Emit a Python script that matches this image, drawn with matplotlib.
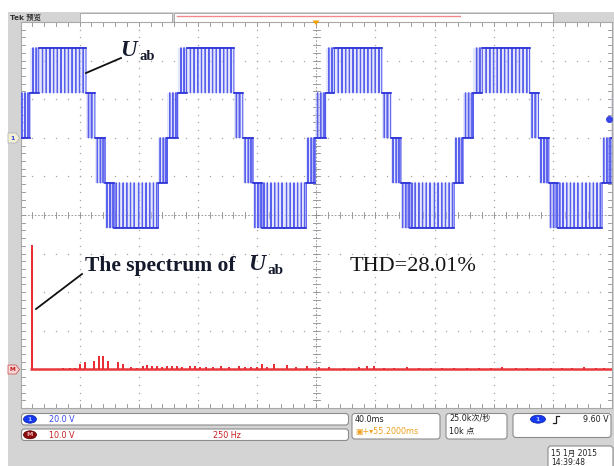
import numpy as np
import matplotlib
matplotlib.use("Agg")
import matplotlib.pyplot as plt
from matplotlib.patches import Rectangle, FancyBboxPatch, Ellipse, Polygon

# ---------------- data ----------------
ch1_volts_per_div = 20.0
ch1_offset_div = 2.0
math_volts_per_div = 10.0
math_offset_div = -4.0
time_ms_per_div = 40.0
fft_hz_per_div = 250.0
trigger_level_v = 9.60

level_step_v = 23.3                      # voltage of one level of the 5-level waveform
peak_centres_ms = [-71.7, 28.3, 128.3, 228.3, 328.3, 428.3]

# one period, relative to the centre of a positive plateau
band_start_ms = [-50.0, -35.0, -29.0, -22.0, -16.0, 16.0, 22.0, 29.0, 35.0]
band_end_ms = [-35.0, -29.0, -22.0, -16.0, 16.0, 22.0, 29.0, 35.0, 50.0]
band_level = [-2, -1, 0, 1, 2, 1, 0, -1, -2]
band_pulse_level = [-1, 0, 1, 2, 1, 0, -1, -2, -1]
band_pulse_ms = [
    [-48.5, -46.0, -43.5, -41.0, -38.5, -36.3],
    [-34.0, -32.0, -30.3],
    [-27.5, -25.5, -23.5],
    [-20.0, -18.0],
    [-13.5, -11.0, -8.5, -6.0, -3.5, -1.0, 1.5, 4.0, 6.5, 9.0, 11.5, 14.0],
    [17.5, 19.5],
    [23.5, 25.5, 27.3],
    [30.0, 32.0, 33.8],
    [36.3, 38.5, 41.0, 43.5, 46.0, 48.5],
]
band_pulse_width_ms = [
    [0.2, 0.2, 0.2, 0.2, 0.2, 0.2],
    [0.3, 0.5, 0.8],
    [0.3, 0.5, 0.8],
    [0.4, 0.7],
    [0.2, 0.2, 0.2, 0.2, 0.2, 0.2, 0.2, 0.2, 0.2, 0.2, 0.2, 0.2],
    [0.4, 0.7],
    [0.3, 0.5, 0.8],
    [0.3, 0.5, 0.8],
    [0.2, 0.2, 0.2, 0.2, 0.2, 0.2],
]

# FFT of Uab (math channel)
fft_span_hz = [40.0, 2500.0]
fft_freq_hz = [50, 179, 209, 230, 251, 272, 310, 331, 348, 369, 411, 432, 466, 491,
               516, 533, 554, 575, 597, 618, 639, 660, 681, 715, 736, 757, 786, 812,
               849, 883, 925, 947, 976, 998, 1022, 1043, 1073, 1128, 1166, 1212, 1263,
               1305, 1368, 1431, 1465, 1495, 1537, 1579, 1634, 1684, 1735, 1781, 1832,
               1887, 1938, 1988, 2034, 2093, 2140, 2190, 2241, 2287, 2329, 2380, 2431, 2465]
fft_amp_v = [32.1, 0.26, 0.39, 0.39, 1.3, 1.8, 2.3, 3.6, 3.6, 2.3, 1.8, 1.3, 0.5, 0.39,
             0.78, 1.04, 0.78, 0.78, 0.52, 0.78, 0.78, 0.78, 0.65, 0.78, 0.78, 0.65, 0.52, 0.65,
             0.78, 0.52, 0.78, 0.65, 0.52, 0.52, 1.3, 0.52, 1.3, 1.04, 0.52, 0.78, 0.52,
             0.52, 0.39, 0.52, 0.78, 0.78, 0.39, 0.39, 0.5, 0.45, 0.45, 0.45, 0.45,
             0.45, 0.45, 0.45, 0.5, 0.45, 0.45, 0.45, 0.45, 0.45, 0.45, 0.5, 0.45, 0.45]

thd_text = "THD=28.01%"

# ---------------- figure ----------------
W, H = 614, 466
fig = plt.figure(figsize=(W / 100, H / 100), dpi=100)
fig.patch.set_facecolor("white")

# background / chrome axes in pixel coordinates
bg = fig.add_axes([0, 0, 1, 1], zorder=0)
bg.set_xlim(0, W); bg.set_ylim(H, 0); bg.axis("off")
bg.add_patch(Rectangle((8, 12), W - 8, H - 12, fc="#d4d4d4", ec="none"))
bg.add_patch(Rectangle((80, 12.5), 92, 9, fc="white", ec="#a0a0a0", lw=0.6))
bg.add_patch(Rectangle((174, 12.5), 379, 9, fc="white", ec="#a0a0a0", lw=0.6))
bg.plot([177, 460], [15.5, 15.5], color="#f08a8a", lw=1.0)
bg.text(10, 17.5, "Tek 预览", fontsize=5.2, color="#303030", va="center",
        family=["DejaVu Sans", "Noto Sans CJK SC"], weight="bold")

# status boxes
def box(x, y, w, h):
    bg.add_patch(FancyBboxPatch((x, y), w, h, boxstyle="round,pad=0,rounding_size=3",
                                fc="white", ec="#8c8c8c", lw=0.8))

sfam = ["DejaVu Sans", "Noto Sans CJK SC"]
box(21.5, 413.5, 327, 11.5)
box(21.5, 429, 327, 11.5)
box(352, 413.5, 88, 25.5)
box(446, 413.5, 61, 25.5)
box(513, 413.5, 98, 24)
box(548, 446, 65, 24)

bg.add_patch(Ellipse((30, 419.2), 13, 8, fc="#1638f0", ec="#0a20a0", lw=0.5))
bg.text(30, 419.4, "1", fontsize=4.5, color="#b0c0ff", ha="center", va="center", weight="bold")
bg.text(49, 419.4, "20.0 V", fontsize=5.8, color="#3848f0", va="center", family=sfam)
bg.add_patch(Ellipse((30, 434.8), 13, 8, fc="#8a0c0c", ec="#500000", lw=0.5))
bg.text(30, 435, "M", fontsize=4.5, color="#f0b0b0", ha="center", va="center", weight="bold")
bg.text(49, 435, "10.0 V", fontsize=5.8, color="#c82020", va="center", family=sfam)
bg.text(213, 435, "250 Hz", fontsize=5.8, color="#c82020", va="center", family=sfam)
bg.text(355, 419, "40.0ms", fontsize=5.8, color="#202020", va="center", family=sfam)
bg.text(355, 431.5, "▣+▾55.2000ms", fontsize=5.8, color="#f0a020", va="center", family=sfam)
bg.text(449, 419, "25.0k次/秒", fontsize=5.8, color="#202020", va="center", family=sfam)
bg.text(449, 431.5, "10k 点", fontsize=5.8, color="#202020", va="center", family=sfam)
bg.add_patch(Ellipse((538, 419.2), 15, 8, fc="#1638f0", ec="#0a20a0", lw=0.5))
bg.text(538, 419.4, "1", fontsize=4.5, color="#b0c0ff", ha="center", va="center", weight="bold")
bg.plot([553, 556, 556, 559], [423, 423, 416, 416], color="#202020", lw=0.9)
bg.text(609, 419.4, "9.60 V", fontsize=5.8, color="#202020", va="center", ha="right", family=sfam)
bg.text(551, 453.5, "15 1月 2015", fontsize=5.5, color="#202020", va="center", family=sfam)
bg.text(551, 462.5, "14:39:48", fontsize=5.5, color="#202020", va="center", family=sfam)

# ---------------- main graticule axes ----------------
L, R, T, B = 20.5, 612.0, 22.0, 408.0
ax = fig.add_axes([L / W, (H - B) / H, (R - L) / W, (B - T) / H], zorder=1)
ax.set_xlim(0, 10); ax.set_ylim(-5, 5)
ax.set_facecolor("white")
ax.set_xticks([]); ax.set_yticks([])
for sp in ax.spines.values():
    sp.set_color("#a8a8a8"); sp.set_linewidth(0.8)

sub = np.arange(0, 10.001, 0.2)
suby = np.arange(-5, 5.001, 0.2)
gcol = "#a4a4a4"
for k in [1, 2, 3, 4, 6, 7, 8, 9]:
    ax.plot(np.full_like(suby, k), suby, ls="none", marker="s", ms=0.9, color=gcol, mew=0)
for k in [-4, -3, -2, -1, 1, 2, 3, 4]:
    ax.plot(sub, np.full_like(sub, k), ls="none", marker="s", ms=0.9, color=gcol, mew=0)
# centre cross with ticks
ax.plot([0, 10], [0, 0], color="#8c8c8c", lw=0.6, ls=(0, (2, 2)))
ax.plot([5, 5], [-5, 5], color="#8c8c8c", lw=0.6, ls=(0, (2, 2)))
for x in sub:
    ax.plot([x, x], [-0.09, 0.09], color="#8c8c8c", lw=0.6)
    ax.plot([x, x], [5, 4.9], color="#8c8c8c", lw=0.6)
    ax.plot([x, x], [-5, -4.9], color="#8c8c8c", lw=0.6)
for y in suby:
    ax.plot([4.94, 5.06], [y, y], color="#8c8c8c", lw=0.6)
    ax.plot([0, 0.07], [y, y], color="#8c8c8c", lw=0.6)
    ax.plot([10, 9.93], [y, y], color="#8c8c8c", lw=0.6)

# ---------------- waveform Uab ----------------
def ch1_y(level):
    return ch1_offset_div + np.asarray(level, dtype=float) * level_step_v / ch1_volts_per_div

xs, ys = [], []
for c in peak_centres_ms:
    for s, e, lv, pl, pts, wds in zip(band_start_ms, band_end_ms, band_level,
                                     band_pulse_level, band_pulse_ms, band_pulse_width_ms):
        xs.append(c + s); ys.append(lv)
        for p, w in zip(pts, wds):
            xs += [c + p, c + p + w]; ys += [pl, lv]
        x0, x1 = (c + s) / time_ms_per_div, (c + e) / time_ms_per_div
        ax.fill_between([x0, x1], ch1_y(lv), ch1_y(pl), color="#ccd0f6", alpha=0.5, lw=0, zorder=2)
        ax.plot([x0, x1], [ch1_y(lv)] * 2, color="#2a30d4", lw=1.2, zorder=4)
xs.append(peak_centres_ms[-1] + band_end_ms[-1]); ys.append(band_level[-1])
xd = np.array(xs) / time_ms_per_div
yd = ch1_y(ys)
ax.plot(xd, yd, drawstyle="steps-post", color="#5a60ee", lw=0.8, zorder=3)

# trigger level marker
ax.plot([9.95], [ch1_offset_div + trigger_level_v / ch1_volts_per_div], "o",
        color="#3a46e8", ms=4, clip_on=False, zorder=4)

# ---------------- spectrum ----------------
fx = np.array(fft_freq_hz) / fft_hz_per_div
fa = np.array(fft_amp_v) / math_volts_per_div
ax.plot(np.array(fft_span_hz) / fft_hz_per_div, [math_offset_div] * 2,
        color="#e8383c", lw=1.8, zorder=3, solid_capstyle="butt")
ax.vlines(fx, math_offset_div, math_offset_div + fa, color="#e82a30", lw=1.4, zorder=3)

# ---------------- overlay annotations ----------------
ov = fig.add_axes([0, 0, 1, 1], zorder=5)
ov.set_xlim(0, W); ov.set_ylim(H, 0); ov.axis("off"); ov.patch.set_alpha(0)

# channel ground markers and trigger position marker
ov.add_patch(Polygon([(8, 133), (16, 133), (19.5, 138), (16, 143), (8, 143)],
                     closed=True, fc="#f3f1d2", ec="#a8a8b8", lw=0.5))
ov.text(12.5, 138.3, "1", fontsize=4.5, color="#3040e0", ha="center", va="center", weight="bold")
ov.add_patch(Polygon([(8, 365), (16, 365), (19.5, 369.5), (16, 374), (8, 374)],
                     closed=True, fc="#f6d6d6", ec="#d04040", lw=0.5))
ov.text(12.5, 369.7, "M", fontsize=4.2, color="#c01818", ha="center", va="center", weight="bold")
ov.add_patch(Polygon([(312.5, 20.5), (319.5, 20.5), (316, 25)], closed=True, fc="#f0a000", ec="none"))

serif = "Liberation Serif"
tcol = "#141a2c"
ov.plot([86, 121], [73, 58], color="#111111", lw=1.3)
ov.text(120, 55.5, "U", family=serif, style="italic", weight="bold", fontsize=16.5,
        color=tcol, va="baseline")
ov.text(139, 60, "ab", family=serif, weight="bold", fontsize=10.5, color=tcol, va="baseline")

ov.plot([36, 82], [309, 274], color="#111111", lw=1.3)
ov.text(85, 270.5, "The spectrum of", family=serif, weight="bold", fontsize=15.5,
        color=tcol, va="baseline")
ov.text(248, 270.5, "U", family=serif, style="italic", weight="bold", fontsize=17,
        color=tcol, va="baseline")
ov.text(267, 274, "ab", family=serif, weight="bold", fontsize=11, color=tcol, va="baseline")

ov.text(350, 271, thd_text, family=serif, fontsize=16, color="#151515", va="baseline")

fig.savefig("out.png", dpi=100)
